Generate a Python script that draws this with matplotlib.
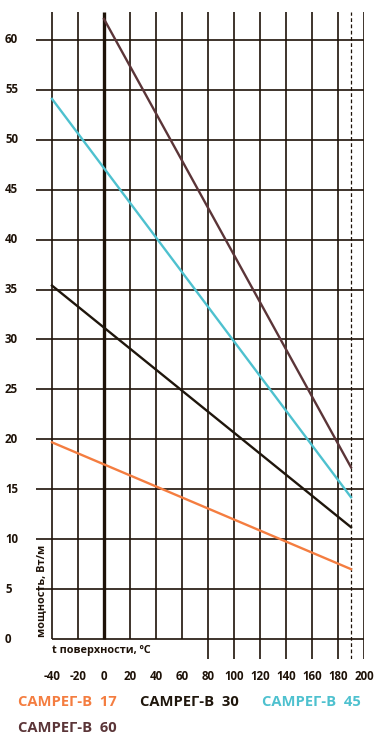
import matplotlib.pyplot as plt
import matplotlib.transforms as mtransforms

plt.rcParams['font.family'] = ['Open Sans', 'DejaVu Sans']
plt.rcParams['font.weight'] = 'bold'

# data (surface temperature, C -> power, W/m)
names = ['САМРЕГ-В  17', 'САМРЕГ-В  30', 'САМРЕГ-В  45', 'САМРЕГ-В  60']
temp_17 = [-40, 190]
power_17 = [19.7, 7.0]
temp_30 = [-40, 190]
power_30 = [35.4, 11.2]
temp_45 = [-40, 190]
power_45 = [54.1, 14.2]
temp_60 = [0, 190]
power_60 = [62.1, 17.2]
colors = ['#F47D40', '#1F160C', '#4EC1CF', '#5B3538']

x_ticks = list(range(-40, 201, 20))
y_ticks = list(range(0, 61, 5))
x_max_temp = 190

fig = plt.figure(figsize=(3.78, 7.40), dpi=100)
ax = fig.add_axes([36 / 378, 81 / 740, 328 / 378, 647 / 740])
ax.set_xlim(-52.3, 200)
ax.set_ylim(-2.0, 62.8)
ax.axis('off')

grid_c = '#1E1208'
ax.hlines(y_ticks[1:], -52.3, 200, color=grid_c, lw=1.2, zorder=1)
ax.hlines(0, -40, 200, color=grid_c, lw=1.2, zorder=1)
for x in x_ticks:
    # left verticals stop at zero, leaving room for the axis caption
    bottom = 0 if x < 80 else -2.0
    ax.vlines(x, bottom, 62.8, color=grid_c, lw=2.4 if x == 0 else 1.2, zorder=1)
ax.vlines(x_max_temp, -2.0, 62.8, color=grid_c, lw=0.9, linestyles=(0, (3, 2)), zorder=1)

series = [(temp_17, power_17), (temp_30, power_30), (temp_45, power_45), (temp_60, power_60)]
for (t, p), c in zip(series, colors):
    ax.plot(t, p, color=c, lw=1.7, zorder=3)

# tick labels
ytr = mtransforms.blended_transform_factory(fig.transFigure, ax.transData)
for y in y_ticks:
    ax.text(5 / 378, y, str(y), transform=ytr, ha='left', va='center',
            fontsize=8.3, color='#1E1208')
xtr = mtransforms.blended_transform_factory(ax.transData, fig.transFigure)
for x in x_ticks:
    ax.text(x, 1 - 677 / 740, str(x), transform=xtr, ha='center', va='center',
            fontsize=8.3, color='#1E1208')

fig.text(52 / 378, 1 - 651 / 740, 't поверхности, ºС', ha='left', va='center',
         fontsize=7.8, color='#1E1208')
fig.text(42 / 378, 1 - 591 / 740, 'мощность, Вт/м', ha='center', va='center',
         rotation=90, fontsize=7.8, color='#1E1208')

# legend
pos = [(18, 702), (140, 702), (262, 702), (18, 728)]
for name, c, (px, py) in zip(names, colors, pos):
    fig.text(px / 378, 1 - py / 740, name, ha='left', va='center',
             fontsize=10.6, color=c)

fig.savefig('out.png', dpi=100)
